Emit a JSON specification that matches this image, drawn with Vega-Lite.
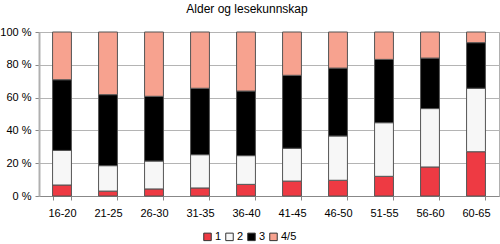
{
  "$schema": "https://vega.github.io/schema/vega-lite/v6.json",
  "width": 460,
  "height": 164,
  "autosize": {"type": "none"},
  "padding": {"left": 39, "top": 32, "right": 1, "bottom": 48},
  "background": "white",
  "config": {
    "font": "Liberation Sans",
    "view": {"stroke": "#b0b0b0", "strokeWidth": 1},
    "axis": {"labelFont": "Liberation Sans", "labelColor": "#000", "labelFontSize": 11}
  },
  "title": {
    "text": "Alder og lesekunnskap",
    "fontSize": 12,
    "fontWeight": "normal",
    "font": "Liberation Sans",
    "color": "#000",
    "anchor": "middle",
    "dx": -22,
    "offset": 10
  },
  "data": {
    "values": [
      {"alder": "16-20", "nivå": "1", "k": 1, "andel": 6.7},
      {"alder": "16-20", "nivå": "2", "k": 2, "andel": 21.1},
      {"alder": "16-20", "nivå": "3", "k": 3, "andel": 43.1},
      {"alder": "16-20", "nivå": "4/5", "k": 4, "andel": 29.1},
      {"alder": "21-25", "nivå": "1", "k": 1, "andel": 3.0},
      {"alder": "21-25", "nivå": "2", "k": 2, "andel": 15.5},
      {"alder": "21-25", "nivå": "3", "k": 3, "andel": 43.3},
      {"alder": "21-25", "nivå": "4/5", "k": 4, "andel": 38.2},
      {"alder": "26-30", "nivå": "1", "k": 1, "andel": 4.3},
      {"alder": "26-30", "nivå": "2", "k": 2, "andel": 17.0},
      {"alder": "26-30", "nivå": "3", "k": 3, "andel": 39.5},
      {"alder": "26-30", "nivå": "4/5", "k": 4, "andel": 39.2},
      {"alder": "31-35", "nivå": "1", "k": 1, "andel": 4.9},
      {"alder": "31-35", "nivå": "2", "k": 2, "andel": 20.3},
      {"alder": "31-35", "nivå": "3", "k": 3, "andel": 40.5},
      {"alder": "31-35", "nivå": "4/5", "k": 4, "andel": 34.3},
      {"alder": "36-40", "nivå": "1", "k": 1, "andel": 7.1},
      {"alder": "36-40", "nivå": "2", "k": 2, "andel": 17.5},
      {"alder": "36-40", "nivå": "3", "k": 3, "andel": 39.4},
      {"alder": "36-40", "nivå": "4/5", "k": 4, "andel": 36.0},
      {"alder": "41-45", "nivå": "1", "k": 1, "andel": 9.1},
      {"alder": "41-45", "nivå": "2", "k": 2, "andel": 20.0},
      {"alder": "41-45", "nivå": "3", "k": 3, "andel": 44.5},
      {"alder": "41-45", "nivå": "4/5", "k": 4, "andel": 26.4},
      {"alder": "46-50", "nivå": "1", "k": 1, "andel": 9.6},
      {"alder": "46-50", "nivå": "2", "k": 2, "andel": 27.0},
      {"alder": "46-50", "nivå": "3", "k": 3, "andel": 41.4},
      {"alder": "46-50", "nivå": "4/5", "k": 4, "andel": 22.0},
      {"alder": "51-55", "nivå": "1", "k": 1, "andel": 12.0},
      {"alder": "51-55", "nivå": "2", "k": 2, "andel": 32.7},
      {"alder": "51-55", "nivå": "3", "k": 3, "andel": 38.6},
      {"alder": "51-55", "nivå": "4/5", "k": 4, "andel": 16.7},
      {"alder": "56-60", "nivå": "1", "k": 1, "andel": 17.7},
      {"alder": "56-60", "nivå": "2", "k": 2, "andel": 35.6},
      {"alder": "56-60", "nivå": "3", "k": 3, "andel": 30.8},
      {"alder": "56-60", "nivå": "4/5", "k": 4, "andel": 15.9},
      {"alder": "60-65", "nivå": "1", "k": 1, "andel": 27.0},
      {"alder": "60-65", "nivå": "2", "k": 2, "andel": 38.7},
      {"alder": "60-65", "nivå": "3", "k": 3, "andel": 27.8},
      {"alder": "60-65", "nivå": "4/5", "k": 4, "andel": 6.5}
    ]
  },
  "mark": {"type": "bar", "stroke": "#555555", "strokeWidth": 1},
  "encoding": {
    "x": {
      "field": "alder",
      "type": "nominal",
      "sort": null,
      "scale": {"paddingInner": 0.59, "paddingOuter": 0.295},
      "axis": {
        "title": null,
        "labelAngle": 0,
        "tickBand": "extent",
        "tickSize": 4,
        "tickColor": "#888888",
        "domainColor": "#888888",
        "labelPadding": 7,
        "grid": false
      }
    },
    "y": {
      "field": "andel",
      "type": "quantitative",
      "stack": "zero",
      "scale": {"domain": [0, 100], "nice": false},
      "axis": {
        "title": null,
        "values": [0, 20, 40, 60, 80, 100],
        "labelExpr": "datum.value + ' %'",
        "grid": true,
        "gridColor": "#b4b4b4",
        "gridOpacity": 1,
        "domainColor": "#b0b0b0",
        "domainWidth": 2,
        "tickSize": 4,
        "tickColor": "#888888",
        "labelPadding": 4
      }
    },
    "color": {
      "field": "nivå",
      "type": "nominal",
      "scale": {"domain": ["1", "2", "3", "4/5"], "range": ["#ee3a43", "#f7f7f7", "#000000", "#f7a28f"]},
      "legend": {
        "title": null,
        "orient": "none",
        "direction": "horizontal",
        "legendX": 163,
        "legendY": 199,
        "symbolType": "square",
        "symbolSize": 56,
        "symbolStrokeColor": "#333333",
        "symbolStrokeWidth": 1,
        "labelFontSize": 11,
        "labelFont": "Liberation Sans",
        "labelOffset": 2,
        "columnPadding": 1
      }
    },
    "order": {"field": "k", "type": "quantitative"}
  }
}
